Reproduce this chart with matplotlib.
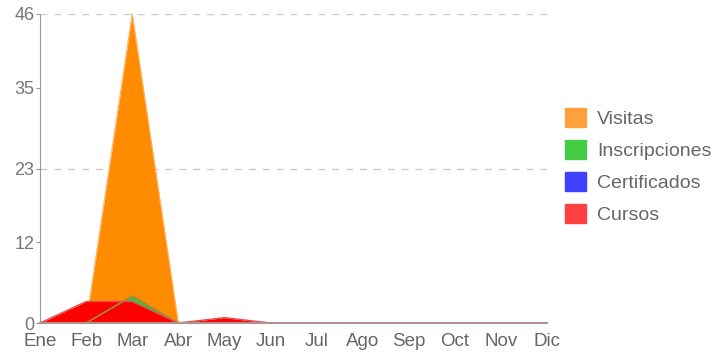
import numpy as np
import matplotlib
matplotlib.use("Agg")
from matplotlib import pyplot as plt
from matplotlib.patches import Patch

months = ["Ene", "Feb", "Mar", "Abr", "May", "Jun", "Jul", "Ago", "Sep", "Oct", "Nov", "Dic"]
visitas = [0, 0, 46, 0, 0, 0, 0, 0, 0, 0, 0, 0]
inscripciones = [0, 0, 4, 0, 0, 0, 0, 0, 0, 0, 0, 0]
certificados = [0, 0, 0, 0, 0, 0, 0, 0, 0, 0, 0, 0]
cursos = [0, 3.2, 3.2, 0, 0.8, 0, 0, 0, 0, 0, 0, 0]
yticks = [0, 12, 23, 35, 46]

plt.rcParams['font.family'] = ['Liberation Sans', 'DejaVu Sans']

fig = plt.figure(figsize=(7.12, 3.54), dpi=100)
ax = fig.add_axes([40 / 712, 1 - 323 / 354, (547 - 40) / 712, (323 - 14) / 354])
x = np.arange(len(months))

ax.fill_between(x, visitas, color="#ff8c00", lw=0, zorder=2)
ax.plot(x, visitas, color="#ffb060", lw=0.8, zorder=2)
ax.fill_between(x, inscripciones, color="#40c040", lw=0, zorder=3)
ax.fill_between(x, certificados, color="#3333ff", lw=0, zorder=3)
ax.fill_between(x, cursos, color="#ff0000", lw=0, zorder=4)
ax.plot(x, inscripciones, color="#a08a40", lw=1.2, zorder=5)
ax.plot(x, cursos, color="#e05050", lw=1.0, zorder=5)

ax.set_xlim(0, 11)
ax.set_ylim(0, 46)
ax.set_xticks(x)
ax.set_xticklabels(months)
ax.set_yticks(yticks)
for yv in [23, 46]:
    ax.axhline(yv, color="#cccccc", lw=1, ls=(0, (5, 5)), zorder=1)

for s in ["top", "right"]:
    ax.spines[s].set_visible(False)
ax.spines["left"].set_color("#999999")
ax.spines["bottom"].set_color("#b09090")
ax.spines["bottom"].set_linewidth(1.5)
ax.spines["bottom"].set_zorder(6)
ax.tick_params(axis="y", colors="#999999", labelcolor="#777777", labelsize=13, length=3, pad=1)
ax.tick_params(axis="x", length=0, labelcolor="#666666", labelsize=13.5, pad=7)

handles = [Patch(color="#ffa040", label="Visitas"),
           Patch(color="#44cc44", label="Inscripciones"),
           Patch(color="#4040ff", label="Certificados"),
           Patch(color="#ff4040", label="Cursos")]
leg = fig.legend(handles=handles, loc="center left", bbox_to_anchor=(557 / 712, 1 - 166 / 354),
                 frameon=False, borderaxespad=0, handlelength=1.1, handleheight=1.1,
                 handletextpad=0.55, labelspacing=0.62, fontsize=14, labelcolor="#666666")

fig.savefig("out.png", dpi=100)
